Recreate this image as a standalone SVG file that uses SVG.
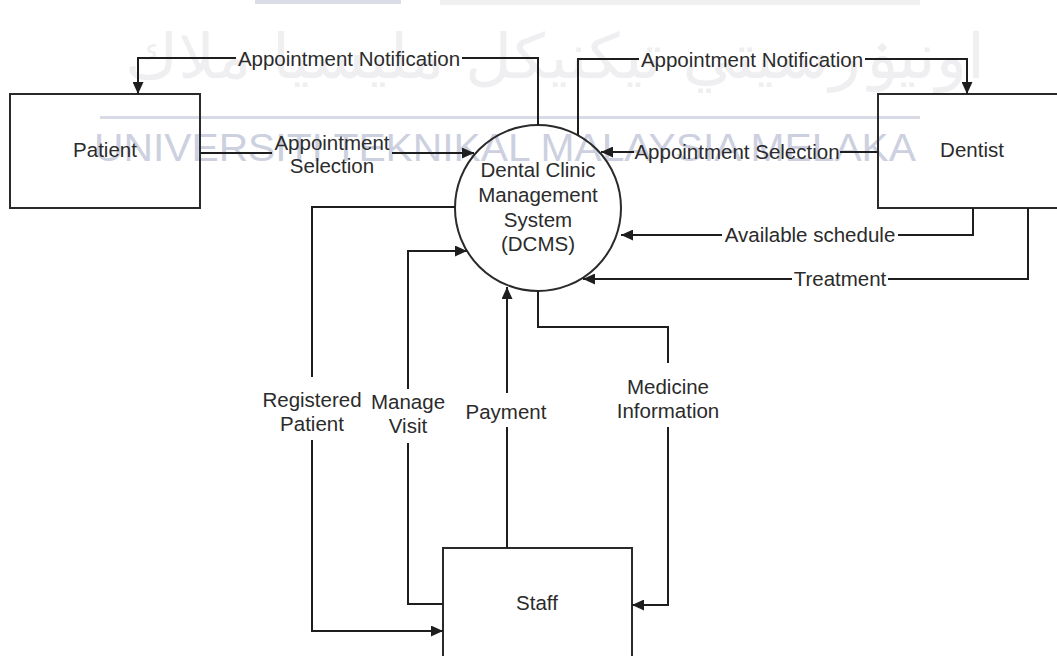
<svg xmlns="http://www.w3.org/2000/svg" width="1057" height="656" viewBox="0 0 1057 656">
  <style>
    .wm { font-family: "Liberation Sans", Arial, sans-serif; font-size: 39px; fill: #cdd0df; }
    .jawi { font-family: "DejaVu Sans", "Noto Sans", sans-serif; font-size: 62px; fill: #efeff2; }
    .box { fill: none; stroke: #2a2a2a; stroke-width: 2; }
    .proc { fill: none; stroke: #2a2a2a; stroke-width: 2; }
    .flow { fill: none; stroke: #1e1e1e; stroke-width: 2; }
    .lbl { font-family: "Liberation Sans", Arial, sans-serif; font-size: 20.5px; fill: #2b2b2b; text-anchor: middle; }
  </style>
  <defs>
    <marker id="arrow" markerUnits="userSpaceOnUse" markerWidth="12" markerHeight="11" refX="12" refY="5.5" orient="auto">
      <path d="M0,0 L12,5.5 L0,11 z" fill="#1e1e1e"/>
    </marker>
  </defs>

  <rect width="1057" height="656" fill="#ffffff"/>

  <!-- background stamp -->
  <g id="watermark">
    <rect x="255" y="0" width="146" height="4" fill="#dcdce8"/>
    <rect x="440" y="0" width="480" height="5" fill="#f0f0f1"/>
    <text class="jawi" x="555" y="78" text-anchor="middle" textLength="860" lengthAdjust="spacingAndGlyphs">اونيۏرسيتي تيكنيكل مليسيا ملاك</text>
    <rect x="100" y="116" width="820" height="3" fill="#d8dae5"/>
    <text class="wm" x="94" y="161" textLength="822" lengthAdjust="spacingAndGlyphs">UNIVERSITI TEKNIKAL MALAYSIA MELAKA</text>
  </g>

  <!-- external entities and process -->
  <g id="patient">
    <rect class="box" x="10" y="94" width="190" height="114"/>
    <text class="lbl" x="105" y="157">Patient</text>
  </g>
  <g id="dentist">
    <rect class="box" x="878" y="94" width="200" height="114"/>
    <text class="lbl" x="972" y="157">Dentist</text>
  </g>
  <g id="staff">
    <rect class="box" x="443" y="548" width="189" height="130"/>
    <text class="lbl" x="537" y="610">Staff</text>
  </g>
  <g id="dcms">
    <circle class="proc" cx="538" cy="208" r="83"/>
    <text class="lbl" x="538" y="177">Dental Clinic</text>
    <text class="lbl" x="538" y="202">Management</text>
    <text class="lbl" x="538" y="227">System</text>
    <text class="lbl" x="538" y="251">(DCMS)</text>
  </g>

  <!-- data flows -->
  <g id="connectors">
    <!-- DCMS to Patient: Appointment Notification -->
    <path class="flow" d="M538,125 V58 H462"/>
    <path class="flow" d="M236,58 H138 V94" marker-end="url(#arrow)"/>
    <text class="lbl" x="349" y="65.5">Appointment Notification</text>

    <!-- DCMS to Dentist: Appointment Notification -->
    <path class="flow" d="M578,135 V59 H639"/>
    <path class="flow" d="M865,59 H967 V94" marker-end="url(#arrow)"/>
    <text class="lbl" x="752" y="66.5">Appointment Notification</text>

    <!-- Patient to DCMS: Appointment Selection -->
    <path class="flow" d="M200,153 H272"/>
    <path class="flow" d="M392,153 H474" marker-end="url(#arrow)"/>
    <text class="lbl" x="332" y="150">Appointment</text>
    <text class="lbl" x="332" y="173">Selection</text>

    <!-- Dentist to DCMS: Appointment Selection -->
    <path class="flow" d="M878,152 H840"/>
    <path class="flow" d="M634,152 H601" marker-end="url(#arrow)"/>
    <text class="lbl" x="737" y="159">Appointment Selection</text>

    <!-- Dentist to DCMS: Available schedule -->
    <path class="flow" d="M973,208 V235 H898"/>
    <path class="flow" d="M722,235 H621" marker-end="url(#arrow)"/>
    <text class="lbl" x="810" y="242">Available schedule</text>

    <!-- Dentist to DCMS: Treatment -->
    <path class="flow" d="M1028,208 V279 H888"/>
    <path class="flow" d="M792,279 H583" marker-end="url(#arrow)"/>
    <text class="lbl" x="840" y="286">Treatment</text>

    <!-- DCMS to Staff: Registered Patient -->
    <path class="flow" d="M455,207 H312 V377"/>
    <path class="flow" d="M312,440 V631 H443" marker-end="url(#arrow)"/>
    <text class="lbl" x="312" y="407">Registered</text>
    <text class="lbl" x="312" y="431">Patient</text>

    <!-- Staff to DCMS: Manage Visit -->
    <path class="flow" d="M443,604 H408 V443"/>
    <path class="flow" d="M408,389 V251 H467" marker-end="url(#arrow)"/>
    <text class="lbl" x="408" y="409">Manage</text>
    <text class="lbl" x="408" y="433">Visit</text>

    <!-- Staff to DCMS: Payment -->
    <path class="flow" d="M507,548 V427"/>
    <path class="flow" d="M507,393 V287" marker-end="url(#arrow)"/>
    <text class="lbl" x="506" y="419">Payment</text>

    <!-- DCMS to Staff: Medicine Information -->
    <path class="flow" d="M538,291 V327 H668 V363"/>
    <path class="flow" d="M668,427 V605 H632" marker-end="url(#arrow)"/>
    <text class="lbl" x="668" y="394">Medicine</text>
    <text class="lbl" x="668" y="418">Information</text>
  </g>
</svg>
